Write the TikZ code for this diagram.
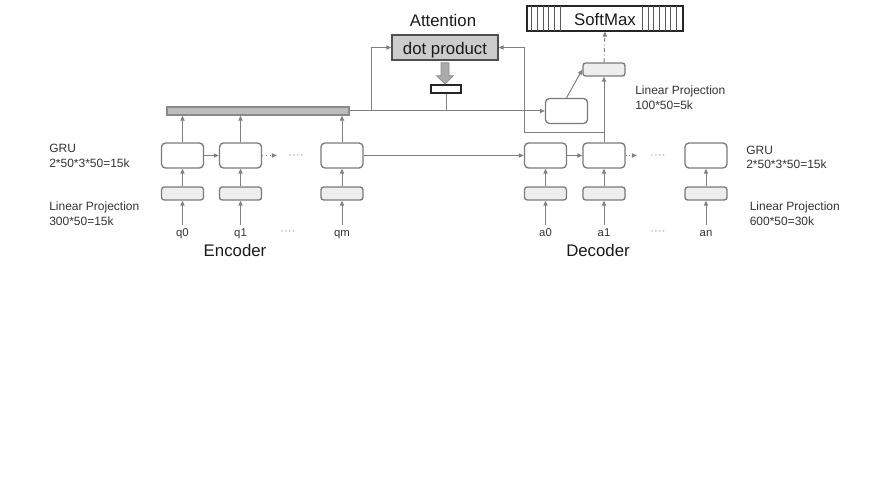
\documentclass[tikz,border=0pt]{standalone}
\usepackage{fontspec}
\setmainfont{Liberation Sans}
\usepackage{xcolor}
\usetikzlibrary{arrows.meta,positioning,calc}
\definecolor{linegray}{HTML}{808080}
\definecolor{boxgray}{HTML}{7A7A7A}
\definecolor{projfill}{HTML}{EEEEEE}
\definecolor{barfill}{HTML}{BDBDBD}
\definecolor{bargray}{HTML}{8A8A8A}
\definecolor{dpfill}{HTML}{CCCCCC}
\definecolor{dpborder}{HTML}{505050}
\definecolor{fatfill}{HTML}{AAAAAA}
\definecolor{fatborder}{HTML}{8C8C8C}
\definecolor{txtgray}{HTML}{333333}
\definecolor{txtblack}{HTML}{1A1A1A}
\definecolor{dotgray}{HTML}{999999}
\begin{document}
\begin{tikzpicture}[x=0.75pt,y=-0.75pt,
  gru/.style={draw=boxgray,fill=white,line width=1pt,rounded corners=3pt,minimum width=31.5pt,minimum height=18.75pt,inner sep=0pt},
  proj/.style={gru,fill=projfill,rounded corners=2pt,minimum height=9.75pt},
  arr/.style={-{Triangle[length=3.8pt,width=3.2pt]},line width=0.75pt,draw=linegray},
  ln/.style={line width=0.75pt,draw=linegray},
  tok/.style={inner sep=2.8pt,text height=6.2pt,text depth=1.8pt,font=\fontsize{8.5}{10}\selectfont,text=txtgray},
  dots/.style={tok,text=dotgray},
  lbl/.style={anchor=west,align=left,inner sep=0pt,font=\fontsize{9}{11}\selectfont,text=txtgray},
  big/.style={inner sep=0pt,font=\fontsize{12.6}{15}\selectfont,text=txtblack},
  smline/.style={line width=0.45pt,draw=black!65}]
\useasboundingbox (0,0) rectangle (872,491);
% encoder and decoder columns
\foreach \n/\x/\t in {e0/182.5/q0,e1/240.5/q1,em/342/qm,d0/545.5/a0,d1/604/a1,dn/706/an}{
  \node[gru] (\n) at (\x,155.5) {};
  \node[proj] (p\n) at (\x,193.5) {};
  \node[tok] (t\n) at (\x,234) {\t};
  \draw[arr] (t\n) -- (p\n);
  \draw[arr] (p\n) -- (\n);
}
\coordinate (e1x) at (277,155.5);
\coordinate (d1x) at (637,155.5);
\draw[arr] (e0) -- (e1);
\draw[arr,dotted] (e1) -- (e1x);
\draw[arr] (em) -- (d0);
\draw[arr] (d0) -- (d1);
\draw[arr,dotted] (d1) -- (d1x);
\node[dots] (edots) at (296,155.5) {····};
\node[dots] (qdots) at (288,232) {····};
\node[dots] (ddots) at (658,155.5) {····};
\node[dots] (adots) at (658,232) {····};
% memory bar
\node[draw=bargray,fill=barfill,line width=1pt,minimum width=136.5pt,minimum height=6pt,inner sep=0pt] (mem) at (258,111) {};
\foreach \n in {e0,e1,em} \draw[arr] (\n) -- (\n |- mem.south);
% attention
\node[big] (att) at (443,20.5) {Attention};
\node[big,draw=dpborder,fill=dpfill,line width=1pt,minimum width=79.5pt,minimum height=18.75pt,text height=10pt,text depth=0pt] (dp) at (445,47.5) {dot product};
\node[draw=black!85,fill=white,line width=0.9pt,minimum width=22.5pt,minimum height=6pt,inner sep=0pt] (wt) at (446,89) {};
\draw[draw=fatborder,fill=fatfill,line width=0.6pt] ($(dp.south)+(-4,2)$) -- ++(8,0) -- ++(0,13) -- ++(4.5,0) -- ++(-8.5,8.5) -- ++(-8.5,-8.5) -- ++(4.5,0) -- cycle;
% output side
\node[gru] (ctx) at (566.5,111) {};
\node[proj] (outp) at (604,69.5) {};
\node[big,draw=black!85,fill=white,line width=0.9pt,minimum width=117pt,minimum height=18.75pt,text height=11pt,text depth=0pt] (sm) at (605,18.5) {SoftMax};
\foreach \k in {0,...,5} \draw[smline] ($(sm.west)+(5+5.7*\k,-12.5)$) -- ++(0,25);
\foreach \k in {0,...,6} \draw[smline] ($(sm.east)+(-41.5+5.7*\k,-12.5)$) -- ++(0,25);
\coordinate (split) at (371,111);
\coordinate (tap) at (604,133);
\draw[arr] (mem.east) -- (ctx.west);
\draw[arr] (split) |- (dp.west);
\draw[ln] (wt.south) -- (wt.south |- mem.east);
\draw[arr] (d1) -- (outp);
\draw[arr] (tap) -| ($(dp.east)+(25.5,0)$) -- (dp.east);
\draw[arr] (ctx.north) -- (outp.west);
\draw[arr,dash dot] (outp.north) -- (sm.south);
% labels
\node[lbl] (lgru) at (49,156) {GRU\\2*50*3*50=15k};
\node[lbl] (lproj) at (49,214) {Linear Projection\\300*50=15k};
\node[lbl] (rgru) at (746,157.5) {GRU\\2*50*3*50=15k};
\node[lbl] (rproj) at (749.5,214) {Linear Projection\\600*50=30k};
\node[lbl] (oproj) at (635,98) {Linear Projection\\100*50=5k};
\node[big] (enc) at (235,250) {Encoder};
\node[big] (dec) at (598,250) {Decoder};
\end{tikzpicture}
\end{document}
